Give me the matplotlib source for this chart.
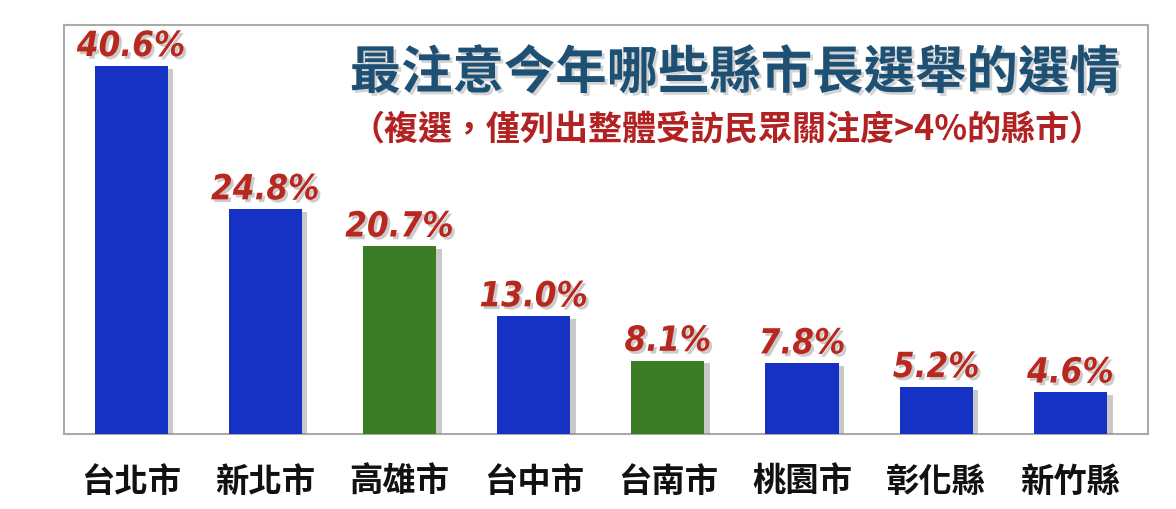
import matplotlib.pyplot as plt
import matplotlib.patheffects as pe
from matplotlib.font_manager import FontProperties

plt.rcParams['font.family'] = ['Noto Sans CJK TC', 'DejaVu Sans']

# 資料
cities = ['台北市', '新北市', '高雄市', '台中市', '台南市', '桃園市', '彰化縣', '新竹縣']
values = [40.6, 24.8, 20.7, 13.0, 8.1, 7.8, 5.2, 4.6]
bar_colors = ['#1632C4', '#1632C4', '#3A7D26', '#1632C4', '#3A7D26', '#1632C4', '#1632C4', '#1632C4']

title = '最注意今年哪些縣市長選舉的選情'
subtitle = '（複選，僅列出整體受訪民眾關注度>4%的縣市）'

num_prop = FontProperties(family='DejaVu Sans', stretch='condensed', weight='bold',
                          style='italic', size=25)

fig = plt.figure(figsize=(11.76, 5.10), dpi=100)
ax = fig.add_axes([0.0544, 0.147, 0.922, 0.802])

shadow = [pe.SimplePatchShadow(offset=(4, -2), shadow_rgbFace='#888888', alpha=0.45), pe.Normal()]
x = range(len(cities))
bars = ax.bar(x, values, width=0.545, color=bar_colors, zorder=3)
for b in bars:
    b.set_path_effects(shadow)

txt_shadow = [pe.withSimplePatchShadow(offset=(2, -2), shadow_rgbFace='#999999', alpha=0.5)]
for i, v in zip(x, values):
    ax.annotate(f'{v:.1f}%', (i, v), xytext=(0, 2), textcoords='offset points',
                ha='center', va='bottom', fontproperties=num_prop,
                color='#B8281E', path_effects=txt_shadow, zorder=4)

ax.set_xlim(-0.5, 7.58)
ax.set_ylim(0, 45.1)
ax.set_yticks([])
ax.set_xticks(list(x))
ax.set_xticklabels(cities, fontsize=24, fontweight='bold', color='#111111')
ax.tick_params(axis='x', length=0, pad=22)
for s in ax.spines.values():
    s.set_color('#aaaaaa')
    s.set_linewidth(1.5)

fig.text(0.625, 0.855, title, ha='center', va='center', fontsize=37, fontweight='bold',
         color='#1E5073', path_effects=[pe.withSimplePatchShadow(offset=(2, -2), shadow_rgbFace='#aaaaaa', alpha=0.5)])
fig.text(0.618, 0.746, subtitle, ha='center', va='center', fontsize=24.5, fontweight='bold',
         color='#B22222')

fig.savefig('out.png', dpi=100)
